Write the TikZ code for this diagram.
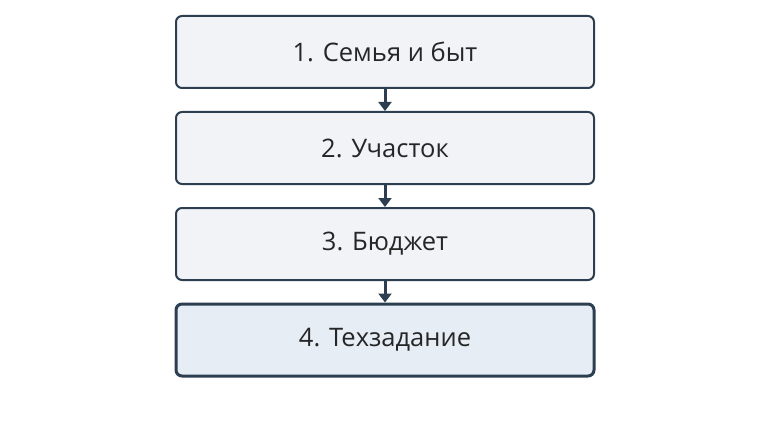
\documentclass[tikz,border=0pt]{standalone}
\usepackage{fontspec}
\setmainfont{Open Sans}
\usetikzlibrary{arrows.meta}
\definecolor{bd}{HTML}{2C3E50}
\definecolor{fa}{HTML}{F2F3F7}
\definecolor{fb}{HTML}{E6EDF5}
\begin{document}
\begin{tikzpicture}[x=1pt,y=-1pt,
  box/.style={draw=bd,line width=2pt,rounded corners=6pt,fill=fa,minimum width=418pt,minimum height=72pt,font=\fontsize{25.5}{30}\selectfont,text=black!85},
  last/.style={box,fill=fb,line width=3pt},
  arr/.style={draw=bd,line width=3pt,-{Triangle[length=9pt,width=13pt]}}]
\useasboundingbox (0,0) rectangle (770,433);
\node[box] (a) at (385,52) {1. Семья и быт};
\node[box] (b) at (385,148) {2. Участок};
\node[box] (c) at (385,244) {3. Бюджет};
\node[last] (d) at (385,340) {4. Техзадание};
\draw[arr] (a) -- (b);
\draw[arr] (b) -- (c);
\draw[arr] (c) -- (d);
\end{tikzpicture}
\end{document}
